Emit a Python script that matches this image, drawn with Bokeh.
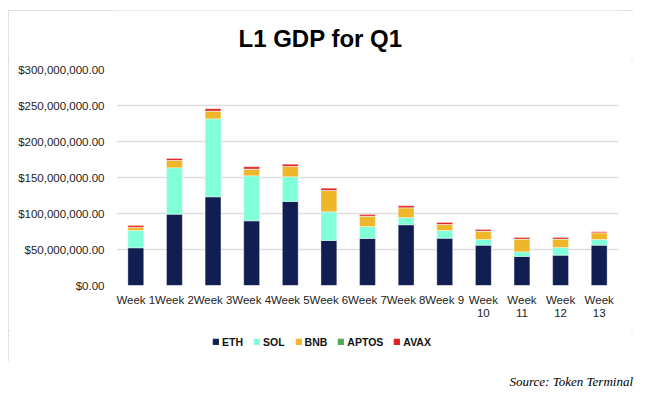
from bokeh.plotting import figure
from bokeh.layouts import column
from bokeh.models import (FactorRange, Range1d, NumeralTickFormatter, FixedTicker,
                          Legend, LegendItem, ColumnDataSource, CategoricalAxis, Label,
                          CustomJSTickFormatter, Div)
from bokeh.embed import file_html
from bokeh.resources import INLINE

weeks = ["Week 1", "Week 2", "Week 3", "Week 4", "Week 5", "Week 6", "Week 7",
         "Week 8", "Week 9", "Week 10", "Week 11", "Week 12", "Week 13"]
series = ["ETH", "SOL", "BNB", "APTOS", "AVAX"]
colors = ["#101e52", "#80ffd9", "#f0b62a", "#4caa4e", "#e01b1b"]

# values in millions of USD
eth_m = [52.3, 99.0, 123.1, 89.8, 116.7, 62.5, 65.3, 84.3, 65.5, 56.0, 40.3, 42.1, 56.0]
sol_m = [24.1, 64.4, 108.4, 62.5, 34.2, 39.8, 16.6, 10.1, 10.9, 7.9, 6.5, 10.7, 7.9]
bnb_m = [4.4, 10.2, 10.6, 9.3, 14.4, 29.6, 14.4, 13.5, 8.3, 11.6, 17.6, 11.6, 9.3]
aptos_m = [0.2, 0.3, 0.3, 0.3, 0.3, 0.3, 0.2, 0.2, 0.2, 0.2, 0.2, 0.2, 0.2]
avax_m = [2.3, 2.5, 3.0, 2.9, 2.9, 3.0, 2.1, 2.5, 2.6, 2.1, 2.1, 2.1, 1.2]

y_ticks = [0, 50e6, 100e6, 150e6, 200e6, 250e6, 300e6]

source = ColumnDataSource(dict(
    week=weeks,
    ETH=[v * 1e6 for v in eth_m],
    SOL=[v * 1e6 for v in sol_m],
    BNB=[v * 1e6 for v in bnb_m],
    APTOS=[v * 1e6 for v in aptos_m],
    AVAX=[v * 1e6 for v in avax_m],
))

# ---- title strip (frame aligned with the chart frame by the column layout) ----
tf = figure(width=625, height=49, output_backend="svg", toolbar_location=None,
            x_range=Range1d(0, 1), y_range=Range1d(0, 1),
            x_axis_type=None, y_axis_type=None, min_border=0)
tf.outline_line_color = None
tf.grid.visible = False
tf.add_layout(Label(x=204 / 502, y=21 / 49, text="L1 GDP for Q1", text_align="center",
                    text_baseline="middle", text_font="Liberation Sans",
                    text_font_style="bold", text_font_size="24px", text_color="#000000"))

# ---- main chart ----
p = figure(x_range=FactorRange(*weeks), y_range=Range1d(0, 300e6),
           width=625, height=271, output_backend="svg", toolbar_location=None,
           min_border_left=108, min_border_right=15, min_border_top=10, min_border_bottom=45)
p.outline_line_color = None

renderers = p.vbar_stack(series, x="week", width=0.41, color=colors, source=source,
                         line_color="white", line_width=0.6, line_alpha=0.6)

p.xgrid.grid_line_color = None
p.ygrid.grid_line_color = "#dedede"
p.ygrid.grid_line_width = 1.5

p.yaxis.ticker = FixedTicker(ticks=y_ticks)
p.yaxis.formatter = NumeralTickFormatter(format="$0,0.00")

# week labels wrap onto two lines for weeks 10-13: first-line axis and second-line axis
ax2 = CategoricalAxis()
p.add_layout(ax2, "below")
p.xaxis[0].formatter = CustomJSTickFormatter(
    code="const n = parseInt(tick.split(' ')[1]); return n >= 10 ? 'Week' : tick;")
ax2.formatter = CustomJSTickFormatter(
    code="const n = parseInt(tick.split(' ')[1]); return n >= 10 ? String(n) : '';")

for ax in (p.xaxis[0], p.yaxis[0], ax2):
    ax.axis_line_color = None
    ax.major_tick_line_color = None
    ax.minor_tick_line_color = None
    ax.major_tick_out = 0
    ax.major_tick_in = 0
    ax.major_label_text_font = "Liberation Sans"
    ax.major_label_text_font_size = "11.5px"
    ax.major_label_text_color = "#222222"
p.yaxis.major_label_standoff = 12
p.xaxis[0].major_label_standoff = 8
ax2.major_label_standoff = 0

# ---- legend strip (inside the bordered box, under the chart) ----
lf = figure(width=625, height=31, output_backend="svg", toolbar_location=None,
            x_range=Range1d(0, 1), y_range=Range1d(0, 1),
            x_axis_type=None, y_axis_type=None, min_border=0)
lf.outline_line_color = None
lf.grid.visible = False
# swatch renderers for the legend keys (placed outside the visible range)
swatches = [lf.vbar(x=[-10], top=[0], bottom=[0], width=0.4, color=c) for c in colors]
legend = Legend(items=[LegendItem(label=s, renderers=[r]) for s, r in zip(series, swatches)],
                orientation="horizontal", location=(96, 13),
                glyph_width=7, glyph_height=7, label_height=13, label_width=10,
                label_standoff=3, spacing=10, padding=0, margin=0,
                border_line_color=None, background_fill_alpha=0,
                label_text_font="Liberation Sans", label_text_font_style="bold",
                label_text_font_size="10.5px", label_text_color="#111111")
lf.add_layout(legend)

box = column(tf, p, lf, margin=(10, 0, 0, 8),
             styles={"outline": "2px solid #d9d9d9", "outline-offset": "-2px"})
src = Div(text="Source: Token Terminal", width=625, margin=(12, 0, 0, 8),
          styles={"text-align": "right", "font-family": "Liberation Serif",
                  "font-style": "italic", "font-size": "13px", "color": "#000000"})
layout = column(box, src)

open("out.html", "w").write(file_html(layout, INLINE))
